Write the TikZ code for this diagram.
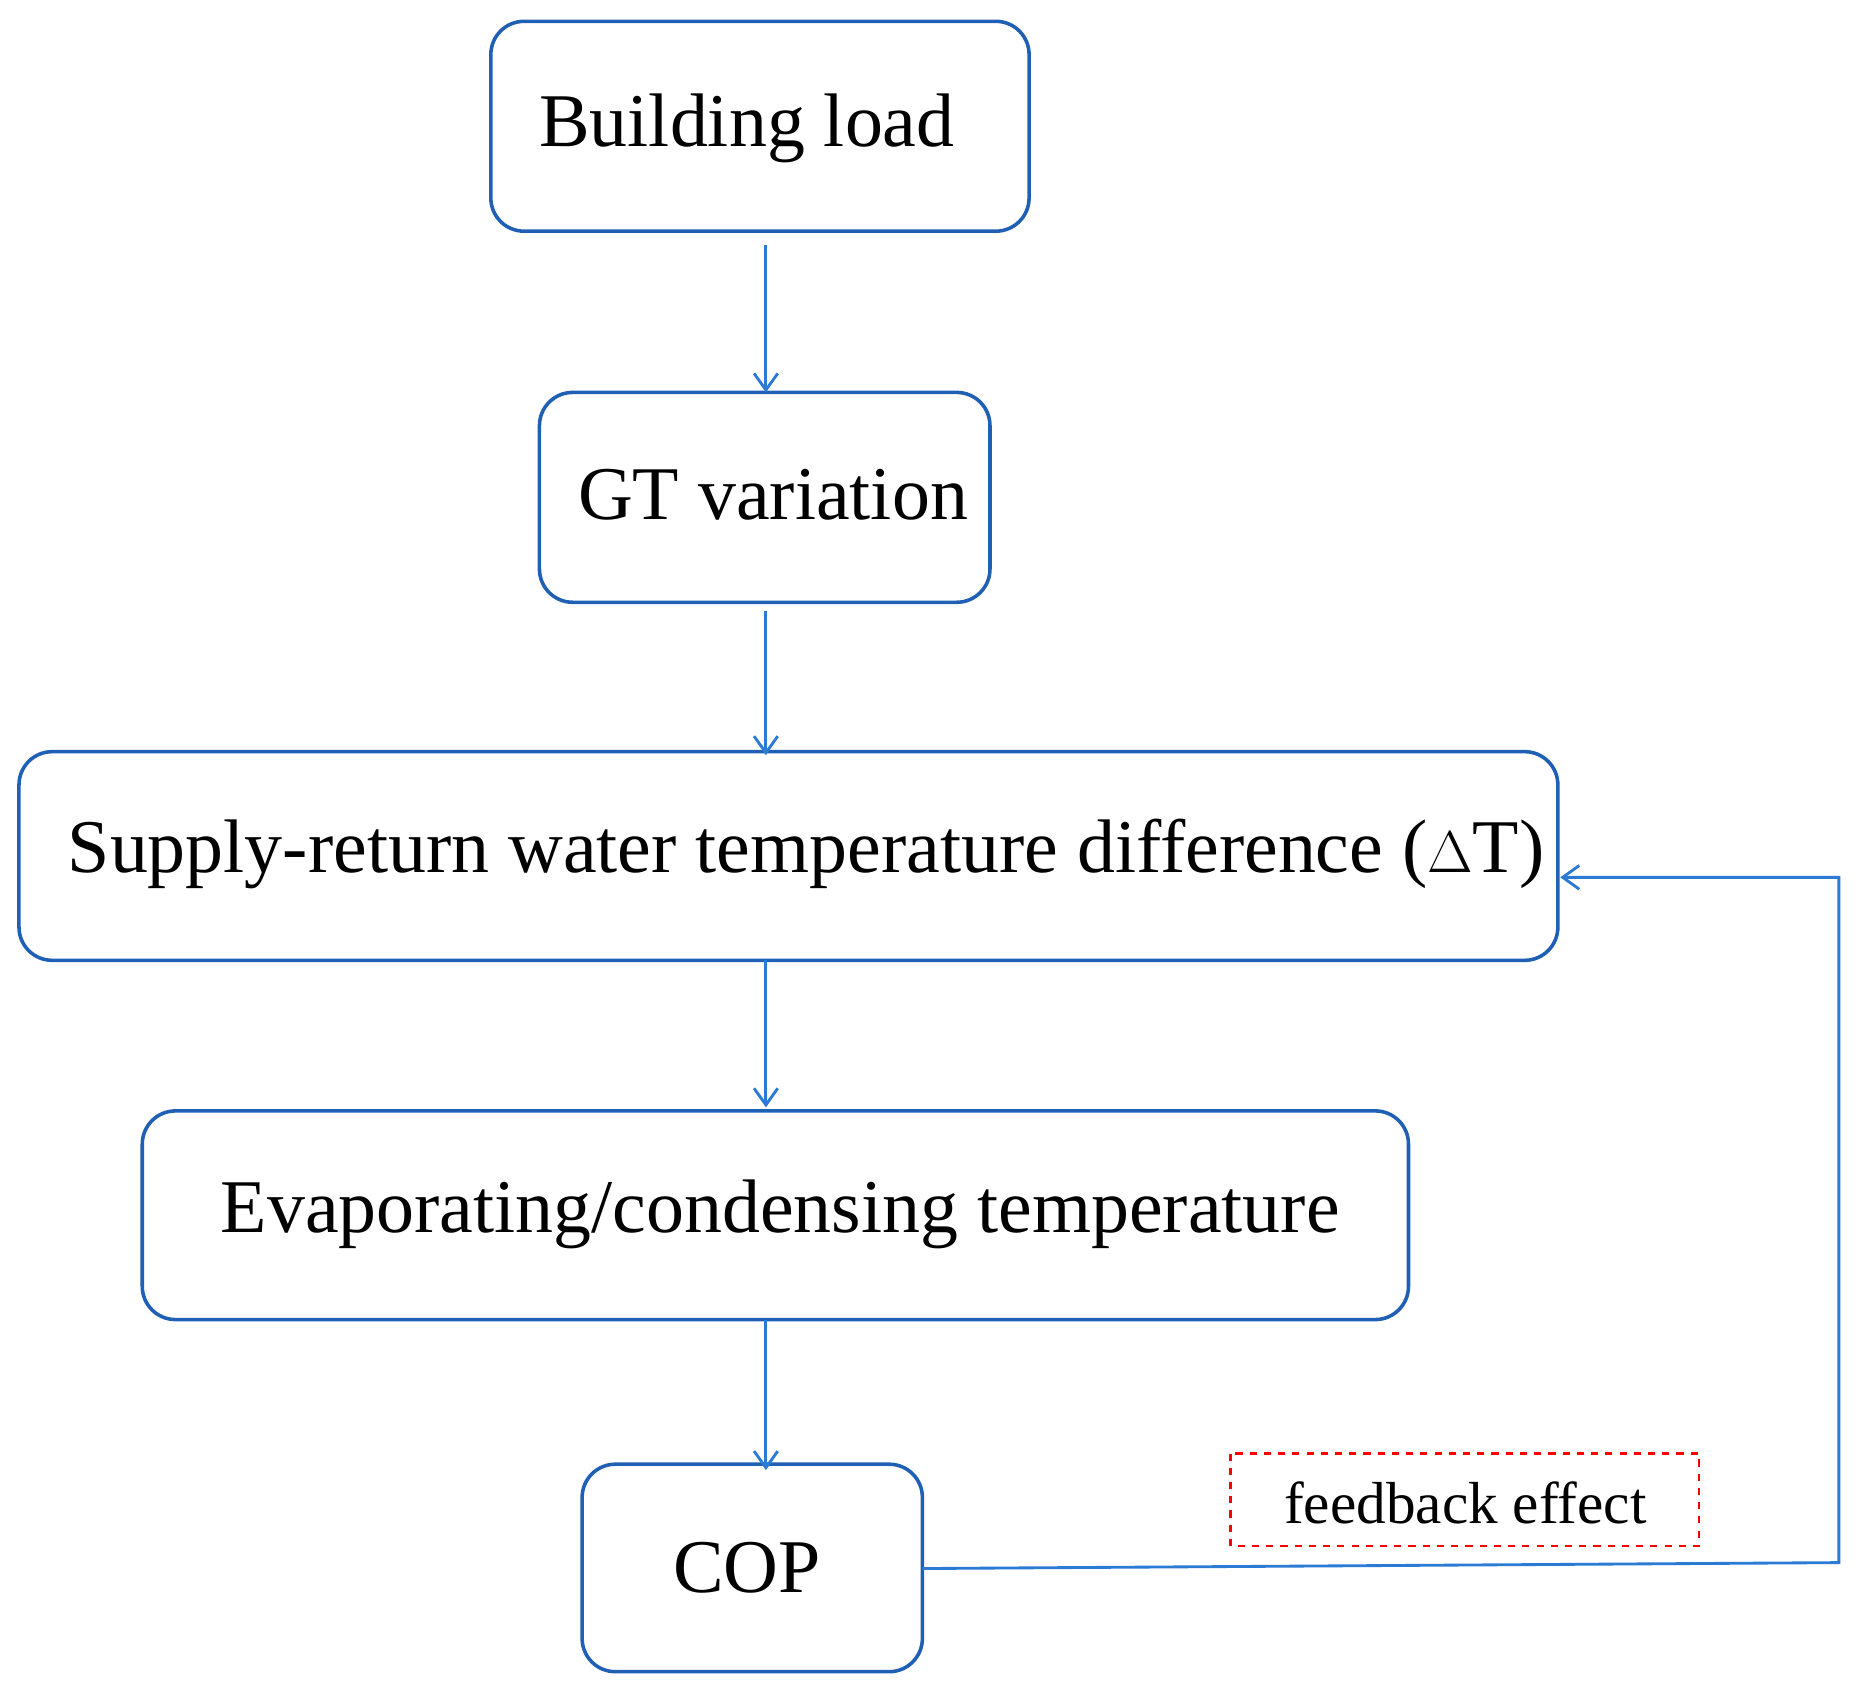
\documentclass[tikz,border=0pt]{standalone}
\usepackage{fontspec}
\setmainfont{Liberation Serif}
\usetikzlibrary{arrows.meta}
\definecolor{bx}{HTML}{1F5FB4}
\definecolor{ar}{HTML}{2B7AD4}
\begin{document}
\begin{tikzpicture}[x=0.5pt,y=-0.5pt,
 box/.style={draw=bx,line width=1.5pt,rounded corners=14pt,inner sep=0pt},
 lab/.style={font=\fontsize{32}{38}\selectfont},
 arr/.style={draw=ar,line width=1.2pt,-{Straight Barb[length=7pt,width=10pt]}}]
\useasboundingbox (0,0) rectangle (1568,1428);
\draw[box] (414,18) rectangle (868,195);
\node[lab] (bl) at (630,108) {Building load};
\coordinate (b1) at (646,207); \coordinate (b2) at (646,331);
\draw[box] (455,331) rectangle (835,508);
\node[lab] (gt) at (652,417) {GT variation};
\coordinate (g1) at (646,515); \coordinate (g2) at (646,637);
\draw[box] (16,634) rectangle (1314,810);
\node[lab] (sr) at (680,720) {Supply-return water temperature difference ($\Delta$T)};
\coordinate (s1) at (646,810); \coordinate (s2) at (646,934);
\draw[box] (120,937) rectangle (1188,1113);
\node[lab] (ev) at (658,1024) {Evaporating/condensing temperature};
\coordinate (e1) at (646,1113); \coordinate (e2) at (646,1240);
\draw[box] (491,1235) rectangle (778,1410);
\node[lab] (cop) at (630,1322) {COP};
\draw[draw=red,dashed,line width=1.2pt] (1038,1226) rectangle (1433,1304);
\node[font=\fontsize{25}{30}\selectfont] (fb) at (1236,1268) {feedback effect};
\draw[arr] (b1) -- (b2);
\draw[arr] (g1) -- (g2);
\draw[arr] (s1) -- (s2);
\draw[arr] (e1) -- (e2);
\coordinate (c1) at (778,1323); \coordinate (c2) at (1551,1318);
\coordinate (c3) at (1551,740); \coordinate (c4) at (1316,740);
\draw[arr] (c1) -- (c2) -- (c3) -- (c4);
\end{tikzpicture}
\end{document}
